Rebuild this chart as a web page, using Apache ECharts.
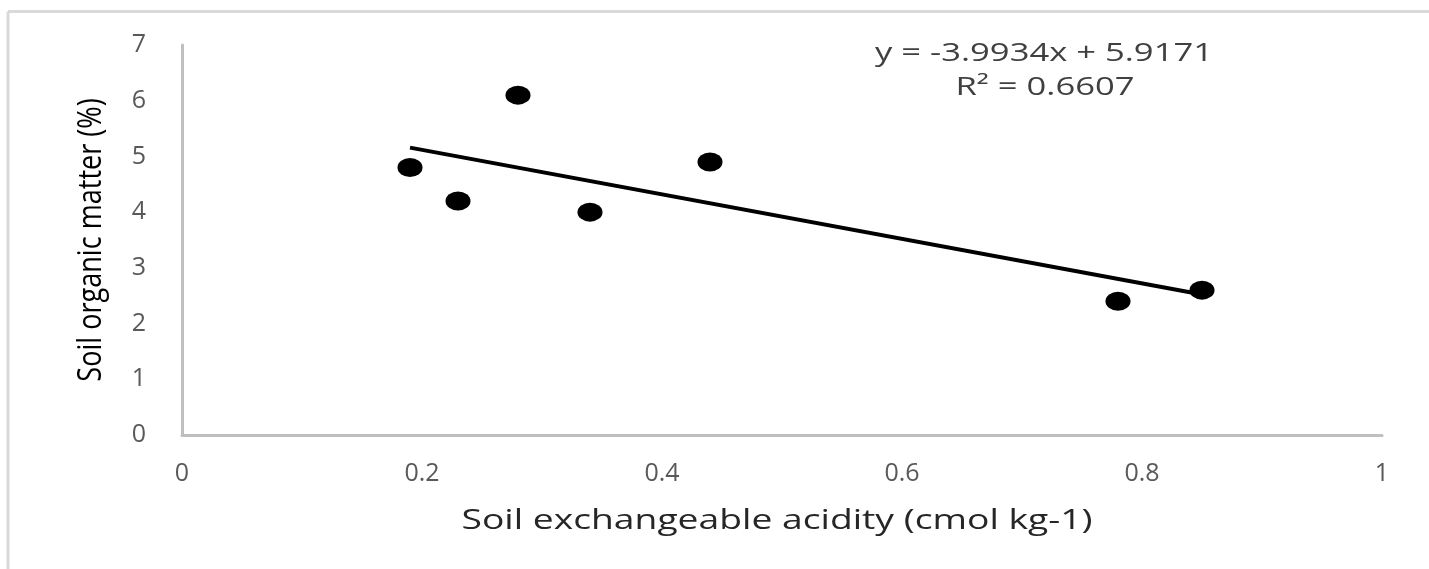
<!DOCTYPE html>
<html>
<head>
<meta charset="utf-8">
<script src="https://cdn.jsdelivr.net/npm/echarts@6/dist/echarts.min.js"></script>
<style>
  html, body { margin: 0; padding: 0; background: #fff; }
  #chart { width: 1429px; height: 569px; }
</style>
</head>
<body>
<div id="chart"></div>
<script>
// data
const acidity = [0.19, 0.23, 0.28, 0.34, 0.44, 0.78, 0.85];
const organicMatter = [4.8, 4.2, 6.1, 4.0, 4.9, 2.4, 2.6];
const xTicks = [0, 0.2, 0.4, 0.6, 0.8, 1];
const yTicks = [0, 1, 2, 3, 4, 5, 6, 7];

// linear trend line from the printed equation
const slope = -3.9934;
const intercept = 5.9171;
const trendX = [0.19, 0.85];
const equationText = "y = -3.9934x + 5.9171";
const r2Text = "R² = 0.6607";
const xTitle = "Soil exchangeable acidity (cmol kg-1)";
const yTitle = "Soil organic matter (%)";

const points = acidity.map((x, i) => [x, organicMatter[i]]);
const trend = trendX.map((x) => [x, slope * x + intercept]);

let myChart = echarts.init(document.getElementById("chart"));
myChart.setOption({
  animation: false,
  backgroundColor: "#fff",
  grid: {
    left: 182,
    right: 47,
    top: 45,
    bottom: 134,
  },
  graphic: [
    // outer frame (top and left edges only show)
    {
      type: "line",
      silent: true,
      shape: { x1: 8, y1: 11.5, x2: 1429, y2: 11.5 },
      style: { stroke: "#d9d9d9", lineWidth: 3 },
    },
    {
      type: "line",
      silent: true,
      shape: { x1: 8, y1: 11.5, x2: 8, y2: 569 },
      style: { stroke: "#d9d9d9", lineWidth: 3 },
    },
    // trend line label, stretched wide like the original
    {
      type: "text",
      x: 1044,
      y: 54,
      scaleX: 1.33,
      style: {
        x: 0,
        y: 0,
        text: equationText,
        align: "center",
        verticalAlign: "middle",
        font: '26px "Open Sans", sans-serif',
        fill: "#404040",
      },
    },
    {
      type: "text",
      x: 1045,
      y: 88,
      scaleX: 1.33,
      style: {
        x: 0,
        y: 0,
        text: r2Text,
        align: "center",
        verticalAlign: "middle",
        font: '26px "Open Sans", sans-serif',
        fill: "#404040",
      },
    },
    // axis titles
    {
      type: "text",
      x: 777,
      y: 521,
      scaleX: 1.33,
      style: {
        x: 0,
        y: 0,
        text: xTitle,
        align: "center",
        verticalAlign: "middle",
        font: '28px "Open Sans", sans-serif',
        fill: "#262626",
      },
    },
    {
      type: "text",
      x: 92,
      y: 240,
      rotation: Math.PI / 2,
      scaleX: 0.82,
      style: {
        x: 0,
        y: 0,
        text: yTitle,
        align: "center",
        verticalAlign: "middle",
        font: '33px "Open Sans", sans-serif',
        fill: "#000",
      },
    },
  ],
  xAxis: {
    type: "value",
    min: 0,
    max: 1,
    interval: 0.2,
    axisLine: { show: true, lineStyle: { color: "#bfbfbf", width: 3 } },
    axisTick: { show: false },
    splitLine: { show: false },
    axisLabel: {
      margin: 26,
      fontFamily: "Open Sans",
      fontSize: 25,
      color: "#595959",
      formatter: (v) => (xTicks.includes(+v.toFixed(1)) ? String(+v.toFixed(1)) : ""),
    },
  },
  yAxis: {
    type: "value",
    min: 0,
    max: 7,
    interval: 1,
    axisLine: { show: true, lineStyle: { color: "#bfbfbf", width: 3 } },
    axisTick: { show: false },
    splitLine: { show: false },
    axisLabel: {
      margin: 36,
      fontFamily: "Open Sans",
      fontSize: 25,
      color: "#595959",
      formatter: (v) => (yTicks.includes(v) ? String(v) : ""),
    },
  },
  series: [
    {
      type: "line",
      data: trend,
      symbol: "none",
      lineStyle: { color: "#000", width: 4 },
      z: 1,
    },
    {
      type: "scatter",
      data: points,
      symbol: "circle",
      symbolSize: [25, 19],
      itemStyle: { color: "#000", opacity: 1 },
      z: 2,
    },
  ],
});
window.addEventListener("resize", function () {
  myChart.resize();
});
</script>
</body>
</html>
